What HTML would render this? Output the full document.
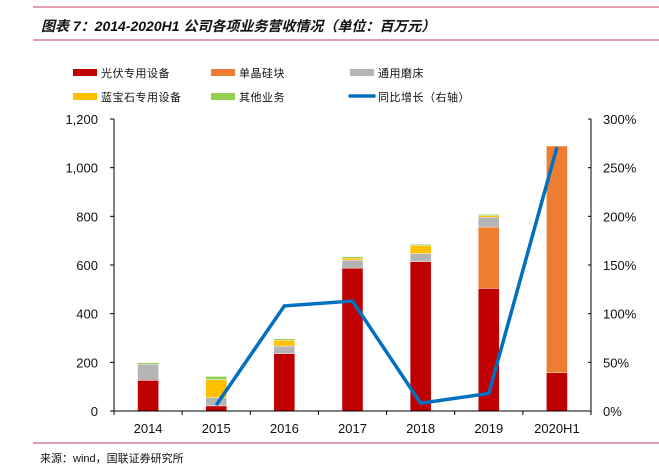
<!DOCTYPE html>
<html><head><meta charset="utf-8"><style>
body{margin:0;background:#fff;}
svg{display:block;font-family:"Liberation Sans","Noto Sans CJK SC",sans-serif;}
</style></head><body>
<svg id="c" width="659" height="473" viewBox="0 0 659 473">
<line x1="33" y1="7" x2="659" y2="7" stroke="#c8415a" stroke-width="1"/>
<text x="41" y="31" font-size="14" font-weight="bold" font-style="italic" fill="#111">图表 7：2014-2020H1 公司各项业务营收情况（单位：百万元）</text>
<line x1="33" y1="40" x2="659" y2="40" stroke="#c8415a" stroke-width="1"/>
<g id="legend" fill="#111"></g>
<g id="plot"></g>
<line x1="33" y1="443" x2="659" y2="443" stroke="#c8415a" stroke-width="1"/>
<text x="40" y="462" font-size="11" fill="#111">来源：wind，国联证券研究所</text>
</svg>
<script>
const categories=["2014","2015","2016","2017","2018","2019","2020H1"];
const pvEquip=[126,21,236,587,614,504,157];
const monoSilicon=[0,0,0,0,0,252,932];
const generalGrinder=[66,34,31,33,33,40,0];
const sapphireEquip=[0,74,24,8,33,7,0];
const otherBiz=[6,13,6,6,5,5,0];
const yoyGrowth=[null,6,108,113,8,18,271];
const leftTicks=[0,200,400,600,800,1000,1200];
const leftTickLabels=["0","200","400","600","800","1,000","1,200"];
const rightTicks=[0,50,100,150,200,250,300];
const rightTickLabels=["0%","50%","100%","150%","200%","250%","300%"];

const NS="http://www.w3.org/2000/svg";
const X0=114,X1=591,Y0=411,Y1=119;
const bw=(X1-X0)/categories.length;
const yL=v=>Y0-(v/1200)*(Y0-Y1);
const yR=v=>Y0-(v/300)*(Y0-Y1);
const xC=i=>X0+bw*(i+0.5);
const plot=document.getElementById('plot');
function mk(tag,attrs,parent){const e=document.createElementNS(NS,tag);for(const k in attrs)e.setAttribute(k,attrs[k]);(parent||plot).appendChild(e);return e;}

const series=[
 {name:"光伏专用设备",vals:pvEquip,color:"#c00000",key:"pv-equipment"},
 {name:"单晶硅块",vals:monoSilicon,color:"#ed7d31",key:"mono-silicon"},
 {name:"通用磨床",vals:generalGrinder,color:"#b4b4b4",key:"general-grinder"},
 {name:"蓝宝石专用设备",vals:sapphireEquip,color:"#ffc000",key:"sapphire-equipment"},
 {name:"其他业务",vals:otherBiz,color:"#92d050",key:"other-business"}
];
categories.forEach((c,i)=>{
  let acc=0;
  series.forEach(s=>{
    const v=s.vals[i]; if(!v) return;
    const r=mk('rect',{x:xC(i)-10.5,y:yL(acc+v),width:21,height:yL(acc)-yL(acc+v),fill:s.color,stroke:"#fff","stroke-width":0.4});
    
    
    acc+=v;
  });
});
const ax=mk('g',{stroke:"#000","stroke-width":1});


mk('line',{x1:X0,y1:Y1,x2:X0,y2:Y0},ax);
mk('line',{x1:X1,y1:Y1,x2:X1,y2:Y0},ax);
mk('line',{x1:X0,y1:Y0,x2:X1,y2:Y0},ax);
leftTicks.forEach((t,i)=>{
  mk('line',{x1:X0-4,y1:yL(t),x2:X0,y2:yL(t)},ax);
  const tx=mk('text',{x:X0-16,y:yL(t)+5,"font-size":13,"text-anchor":"end",fill:"#111",stroke:"none"});
  tx.textContent=leftTickLabels[i];
  
  
});
rightTicks.forEach((t,i)=>{
  mk('line',{x1:X1-3,y1:yR(t),x2:X1,y2:yR(t)},ax);
  const tx=mk('text',{x:X1+12,y:yR(t)+5,"font-size":13,fill:"#111",stroke:"none"});
  tx.textContent=rightTickLabels[i];
  
  
});
for(let i=0;i<=categories.length;i++) mk('line',{x1:X0+bw*i,y1:Y0,x2:X0+bw*i,y2:Y0+4},ax);
categories.forEach((c,i)=>{
  const tx=mk('text',{x:xC(i),y:433,"font-size":13,"text-anchor":"middle",fill:"#111",stroke:"none"});
  tx.textContent=c;
  
  
});
let d="";
yoyGrowth.forEach((v,i)=>{if(v==null)return;d+=(d?"L":"M")+xC(i)+","+yR(v);});
const ln=mk('path',{d:d,fill:"none",stroke:"#0070c0","stroke-width":3.5,"stroke-linejoin":"miter"});


const lg=document.getElementById('legend');
const items=[
 ["光伏专用设备","#c00000",73,72,"rect"],["单晶硅块","#ed7d31",211,72,"rect"],["通用磨床","#b4b4b4",350,72,"rect"],
 ["蓝宝石专用设备","#ffc000",73,96,"rect"],["其他业务","#92d050",211,96,"rect"],["同比增长（右轴）","#0070c0",350,96,"line"]
];
items.forEach(it=>{
  const g=mk('g',{},lg);
  
  
  if(it[4]==="rect") mk('rect',{x:it[2],y:it[3]-3,width:24,height:7,fill:it[1]},g);
  else mk('line',{x1:it[2],y1:it[3],x2:it[2]+24,y2:it[3],stroke:it[1],"stroke-width":3.5,"stroke-linecap":"round"},g);
  const t=mk('text',{x:it[2]+28,y:it[3]+5,"font-size":11,"letter-spacing":0.5,fill:"#111"},g);
  t.textContent=it[0];
});
</script>
</body></html>
